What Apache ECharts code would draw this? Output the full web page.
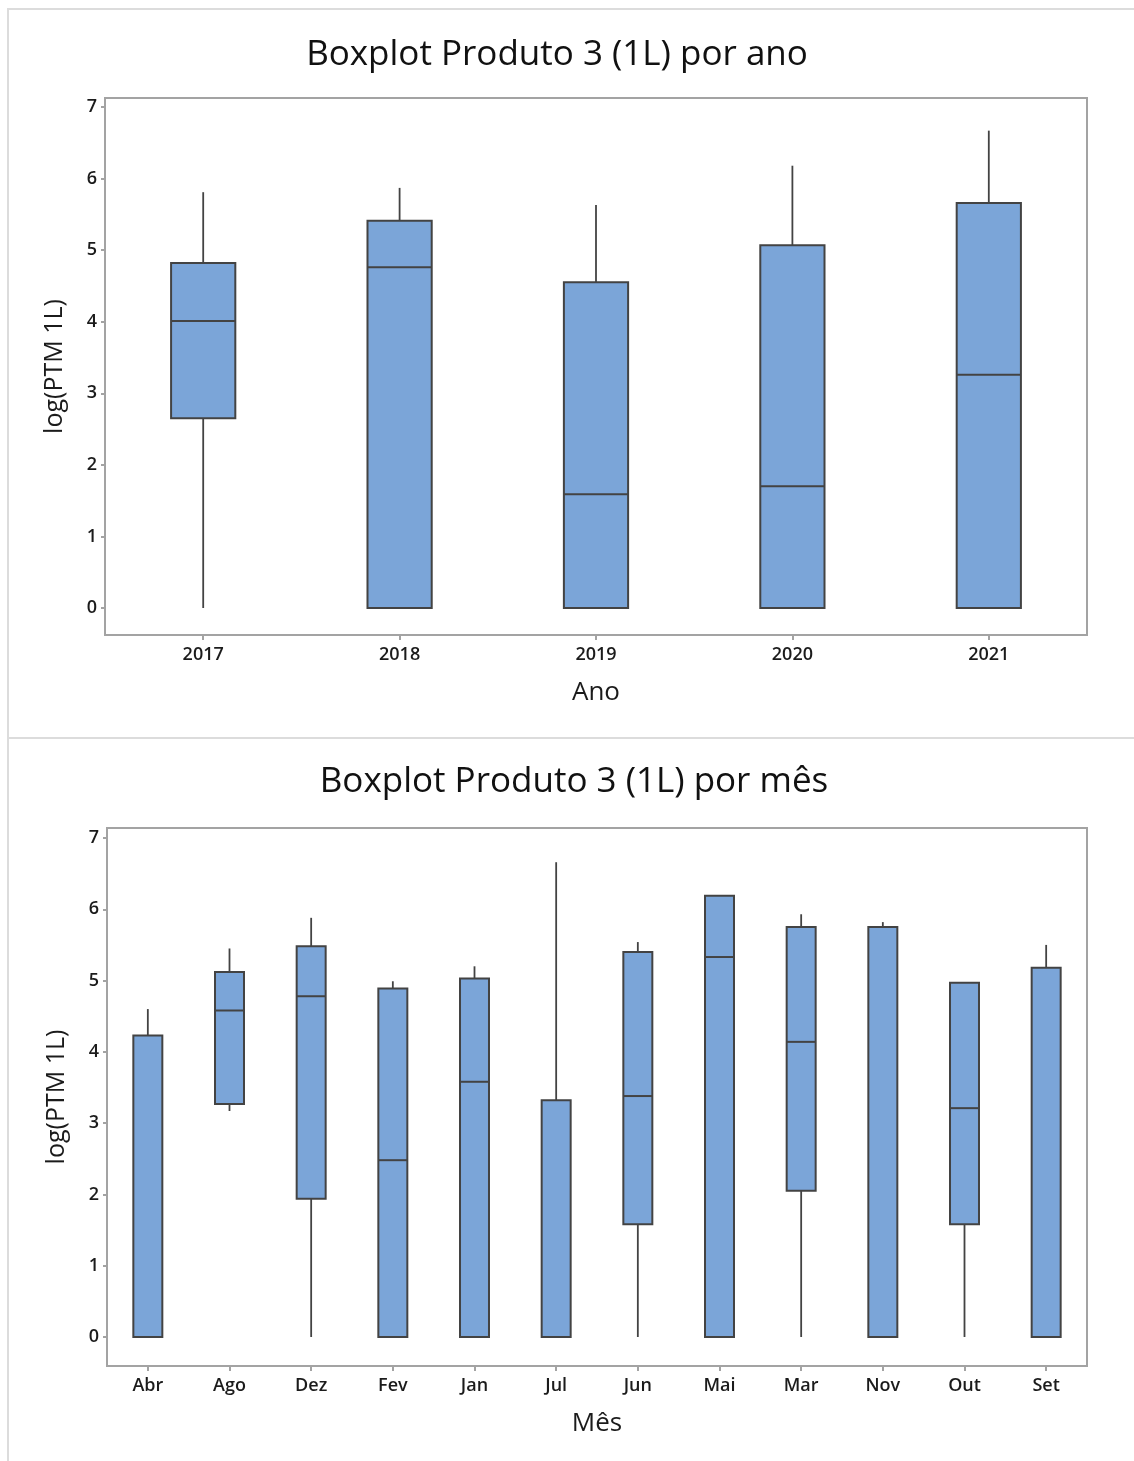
<!DOCTYPE html>
<html>
<head>
<meta charset="utf-8">
<script src="https://cdn.jsdelivr.net/npm/echarts@6/dist/echarts.min.js"></script>
<style>
html,body{margin:0;padding:0;background:#fff;}
#main{width:1134px;height:1461px;}
</style>
</head>
<body>
<div id="main"></div>
<script>
// ---- data ----
var years = ['2017', '2018', '2019', '2020', '2021'];
var yearLow = [0, 0, 0, 0, 0];
var yearQ1 = [2.65, 0, 0, 0, 0];
var yearMedian = [4.01, 4.76, 1.59, 1.70, 3.26];
var yearQ3 = [4.82, 5.41, 4.55, 5.07, 5.66];
var yearHigh = [5.81, 5.87, 5.63, 6.18, 6.67];

var months = ['Abr', 'Ago', 'Dez', 'Fev', 'Jan', 'Jul', 'Jun', 'Mai', 'Mar', 'Nov', 'Out', 'Set'];
var monthLow = [0, 3.17, 0, 0, 0, 0, 0, 0, 0, 0, 0, 0];
var monthQ1 = [0, 3.27, 1.94, 0, 0, 0, 1.58, 0, 2.05, 0, 1.58, 0];
var monthMedian = [0, 4.58, 4.78, 2.48, 3.58, 0, 3.38, 5.33, 4.14, 0, 3.21, 0];
var monthQ3 = [4.23, 5.12, 5.48, 4.89, 5.03, 3.32, 5.40, 6.19, 5.75, 5.75, 4.97, 5.18];
var monthHigh = [4.60, 5.45, 5.88, 4.99, 5.20, 6.66, 5.54, 6.19, 5.93, 5.82, 4.97, 5.50];

var yTicks = [0, 1, 2, 3, 4, 5, 6, 7];

// ---- helpers ----
function rows(low, q1, med, q3, high) {
  return low.map(function (v, i) { return [i, low[i], q1[i], med[i], q3[i], high[i]]; });
}
var FILL = '#7BA5D8', EDGE = '#434343', FRAME = '#a3a3a3', TXT = '#1b1b1b';
var FONT = '"Open Sans", "Noto Sans", sans-serif';

function makeRender(widthRatio) {
  return function (params, api) {
    var x = api.value(0);
    var pLow = api.coord([x, api.value(1)]);
    var pQ1 = api.coord([x, api.value(2)]);
    var pMed = api.coord([x, api.value(3)]);
    var pQ3 = api.coord([x, api.value(4)]);
    var pHigh = api.coord([x, api.value(5)]);
    var band = api.size([1, 0])[0];
    var w = band * widthRatio;
    var cx = pQ1[0];
    var children = [];
    if (api.value(5) > api.value(4)) {
      children.push({ type: 'line', shape: { x1: cx, y1: pQ3[1], x2: cx, y2: pHigh[1] },
        style: { stroke: EDGE, lineWidth: 1.8 } });
    }
    if (api.value(2) > api.value(1)) {
      children.push({ type: 'line', shape: { x1: cx, y1: pLow[1], x2: cx, y2: pQ1[1] },
        style: { stroke: EDGE, lineWidth: 1.8 } });
    }
    children.push({ type: 'rect', shape: { x: cx - w / 2, y: pQ3[1], width: w, height: pQ1[1] - pQ3[1] },
      style: { fill: FILL, stroke: EDGE, lineWidth: 2 } });
    children.push({ type: 'line', shape: { x1: cx - w / 2, y1: pMed[1], x2: cx + w / 2, y2: pMed[1] },
      style: { stroke: EDGE, lineWidth: 2 } });
    return { type: 'group', children: children };
  };
}

function xAxisCfg(cats, gridIndex, name) {
  return {
    type: 'category', gridIndex: gridIndex, data: cats, boundaryGap: true,
    name: name, nameLocation: 'middle', nameGap: 45,
    nameTextStyle: { fontFamily: FONT, fontSize: 26, fontWeight: 500, color: TXT },
    axisLine: { show: true, onZero: false, lineStyle: { color: FRAME, width: 2 } },
    axisTick: { show: true, alignWithLabel: true, length: 5, lineStyle: { color: FRAME, width: 2 } },
    axisLabel: { fontFamily: FONT, fontSize: 18, fontWeight: 600, color: TXT, margin: 11 },
    splitLine: { show: false }
  };
}
function yAxisCfg(gridIndex, min, max) {
  return {
    type: 'value', gridIndex: gridIndex, min: min, max: max,
    name: 'log(PTM 1L)', nameLocation: 'middle', nameGap: 38,
    nameTextStyle: { fontFamily: FONT, fontSize: 25, fontWeight: 500, color: TXT },
    axisLine: { show: true, onZero: false, lineStyle: { color: FRAME, width: 2 } },
    axisTick: { show: true, length: 4, customValues: yTicks, lineStyle: { color: FRAME, width: 2 } },
    axisLabel: { fontFamily: FONT, fontSize: 18, fontWeight: 600, color: TXT, margin: 8, customValues: yTicks },
    splitLine: { show: false }
  };
}

var chart = echarts.init(document.getElementById('main'), null, { renderer: 'canvas' });
chart.setOption({
  backgroundColor: '#ffffff',
  animation: false,
  graphic: [
    { type: 'rect', silent: true, z: -10, shape: { x: 8, y: 9, width: 1140, height: 729 },
      style: { fill: 'none', stroke: '#dcdcdc', lineWidth: 2 } },
    { type: 'rect', silent: true, z: -10, shape: { x: 8, y: 738, width: 1140, height: 740 },
      style: { fill: 'none', stroke: '#dcdcdc', lineWidth: 2 } }
  ],
  title: [
    { text: 'Boxplot Produto 3 (1L) por ano', left: 557, top: 38, textAlign: 'center', padding: 0,
      textStyle: { fontFamily: FONT, fontSize: 35, fontWeight: 400, color: '#111' } },
    { text: 'Boxplot Produto 3 (1L) por mês', left: 574, top: 765, textAlign: 'center', padding: 0,
      textStyle: { fontFamily: FONT, fontSize: 35, fontWeight: 400, color: '#111' } }
  ],
  grid: [
    { left: 105, right: 47, top: 98, height: 537, show: true, borderColor: FRAME, borderWidth: 2, backgroundColor: '#fff' },
    { left: 107, right: 47, top: 828, height: 538, show: true, borderColor: FRAME, borderWidth: 2, backgroundColor: '#fff' }
  ],
  xAxis: [xAxisCfg(years, 0, 'Ano'), xAxisCfg(months, 1, 'Mês')],
  yAxis: [yAxisCfg(0, -0.377, 7.126), yAxisCfg(1, -0.407, 7.14)],
  series: [
    { type: 'custom', xAxisIndex: 0, yAxisIndex: 0, renderItem: makeRender(0.327),
      encode: { x: 0, y: [1, 2, 3, 4, 5] },
      data: rows(yearLow, yearQ1, yearMedian, yearQ3, yearHigh) },
    { type: 'custom', xAxisIndex: 1, yAxisIndex: 1, renderItem: makeRender(0.355),
      encode: { x: 0, y: [1, 2, 3, 4, 5] },
      data: rows(monthLow, monthQ1, monthMedian, monthQ3, monthHigh) }
  ]
});
</script>
</body>
</html>
